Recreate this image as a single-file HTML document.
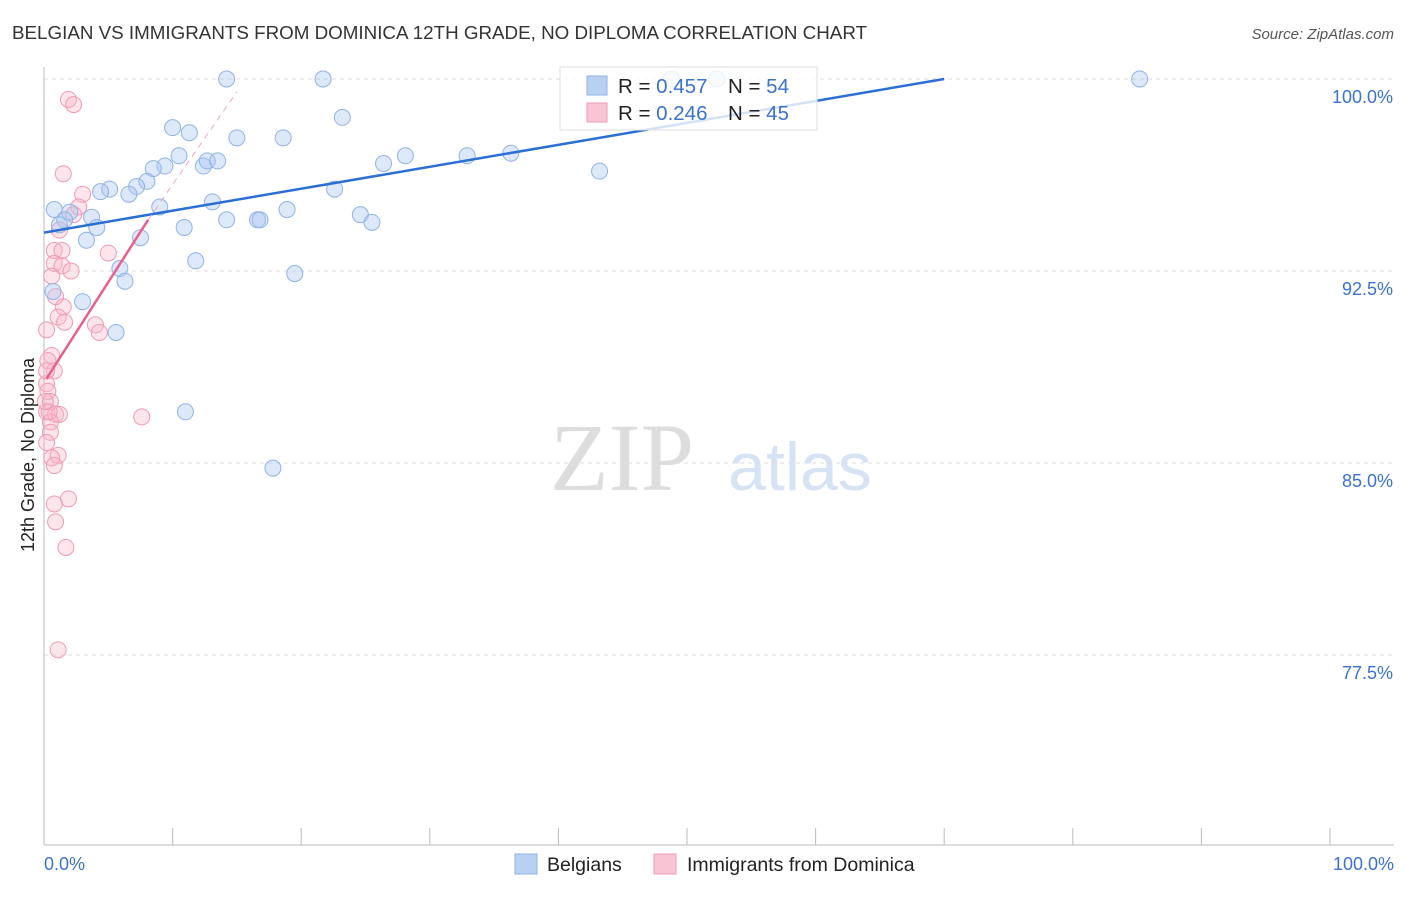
<!DOCTYPE html>
<html><head><meta charset="utf-8"><style>
body{margin:0;background:#fff;font-family:"Liberation Sans",sans-serif;}
</style></head><body>
<svg id="chart" width="1406" height="892" xmlns="http://www.w3.org/2000/svg">
<text x="12" y="39" font-size="18.8" fill="#333">BELGIAN VS IMMIGRANTS FROM DOMINICA 12TH GRADE, NO DIPLOMA CORRELATION CHART</text>
<text x="1394" y="39" font-size="15" fill="#555" text-anchor="end" font-style="italic">Source: ZipAtlas.com</text>
<text x="622" y="490" font-size="96" fill="#ddd" font-family="Liberation Serif,serif" text-anchor="middle">ZIP</text>
<text x="800" y="490" font-size="68" fill="#d6e3f5" text-anchor="middle">atlas</text>
<g id="grid"></g><g id="axes"></g><g id="marks"></g>
<text transform="translate(34,455) rotate(-90)" font-size="18" fill="#222" text-anchor="middle">12th Grade, No Diploma</text>
<g>
<rect x="560" y="67" width="257" height="63" fill="#fff" fill-opacity="0.8" stroke="#ddd"/>
<rect x="587" y="76" width="20" height="19" fill="#b8d0f2" stroke="#8fb3e6"/>
<rect x="587" y="103" width="20" height="19" fill="#f9c4d3" stroke="#f09ab3"/>
<text x="618" y="93" font-size="20.5" fill="#222">R = <tspan fill="#3b72d0">0.457</tspan></text>
<text x="728" y="93" font-size="20.5" fill="#222">N = <tspan fill="#3b72d0">54</tspan></text>
<text x="618" y="120" font-size="20.5" fill="#222">R = <tspan fill="#3b72d0">0.246</tspan></text>
<text x="728" y="120" font-size="20.5" fill="#222">N = <tspan fill="#3b72d0">45</tspan></text>
</g>
<g>
<rect x="515" y="854" width="22" height="20" fill="#b8d0f2" stroke="#8fb3e6"/>
<text x="547" y="871" font-size="19.5" fill="#222">Belgians</text>
<rect x="654" y="854" width="22" height="20" fill="#f9c4d3" stroke="#f09ab3"/>
<text x="687" y="871" font-size="19.5" fill="#222">Immigrants from Dominica</text>
</g>
</svg>
<script>
const yTicks=[100,92.5,85,77.5];
const yTickLabels=["100.0%","92.5%","85.0%","77.5%"];
const blueX=[14.2,21.7,48.8,52.3,85.2,10,11.3,15,18.6,23.2,10.5,12.4,12.7,13.5,9.4,8.5,8,7.2,5.1,4.4,6.6,9,13.1,18.9,22.6,26.4,28.1,32.9,36.3,43.2,24.6,25.5,16.6,16.8,14.2,10.9,0.8,2,1.6,3.7,4.1,1.2,3.3,7.5,11.8,5.9,6.3,19.5,3,0.7,5.6,11,17.8];
const blueY=[100,100,100,100,100,98.1,97.9,97.7,97.7,98.5,97,96.6,96.8,96.8,96.6,96.5,96,95.8,95.7,95.6,95.5,95,95.2,94.9,95.7,96.7,97,97,97.1,96.4,94.7,94.4,94.5,94.5,94.5,94.2,94.9,94.8,94.5,94.6,94.2,94.3,93.7,93.8,92.9,92.6,92.1,92.4,91.3,91.7,90.1,87,84.8];
const pinkX=[1.9,2.3,1.5,3,2.7,2.3,1.2,0.8,1.4,5,0.8,1.4,2.1,0.6,0.9,1.5,1.1,1.6,4,4.3,0.2,0.6,0.3,0.8,0.2,0.3,0.5,0.2,0.9,1.2,0.5,0.5,0.2,1.1,0.6,0.8,1.9,0.8,0.9,1.7,1.1,7.6,0.2,0.4,0.1];
const pinkY=[99.2,99,96.3,95.5,95,94.7,94.1,93.3,93.3,93.2,92.8,92.7,92.5,92.3,91.5,91.1,90.7,90.5,90.4,90.1,90.2,89.2,89,88.6,88.1,87.8,87.4,87,86.9,86.9,86.6,86.2,85.8,85.3,85.2,84.9,83.6,83.4,82.7,81.7,77.7,86.8,88.6,87,87.4];
const blueTrend=[0,94,70,100];
const pinkTrend=[0.2,88.3,8.1,94.5];
const pinkDash=[8.1,94.5,15,99.5];
const NS="http://www.w3.org/2000/svg";
const X0=44,X1=1330,YTOP=79,PX=25.6;
const sx=v=>X0+(X1-X0)*v/100, sy=v=>YTOP+(100-v)*PX;
function mk(tag,attrs,parent){const e=document.createElementNS(NS,tag);for(const k in attrs)e.setAttribute(k,attrs[k]);document.getElementById(parent).appendChild(e);return e;}
yTicks.forEach((t,i)=>{
 const l=mk('line',{x1:44,x2:1394,y1:sy(t),y2:sy(t),stroke:'#ddd','stroke-dasharray':'4,4'},'grid');
 
 
 const tx=mk('text',{x:1393,y:sy(t)+24,'font-size':18,fill:'#3b72d0','text-anchor':'end'},'axes');
 tx.textContent=yTickLabels[i];
 
 
});
const ax=mk('line',{x1:44,x2:44,y1:67,y2:845,stroke:'#bbb'},'axes');


const bx=mk('line',{x1:44,x2:1394,y1:845,y2:845,stroke:'#bbb'},'axes');


for(let i=0;i<=10;i++){const t=mk('line',{x1:sx(i*10),x2:sx(i*10),y1:828,y2:845,stroke:'#bbb'},'axes');
 
 }
const xl=mk('text',{x:44,y:870,'font-size':18,fill:'#3b72d0'},'axes');xl.textContent='0.0%';


const xr=mk('text',{x:1394,y:870,'font-size':18,fill:'#3b72d0','text-anchor':'end'},'axes');xr.textContent='100.0%';


pinkX.forEach((v,i)=>{const c=mk('circle',{cx:sx(v),cy:sy(pinkY[i]),r:8,fill:'rgba(248,180,200,0.35)',stroke:'#f09ab3','stroke-width':1},'marks');
 
 });
blueX.forEach((v,i)=>{const c=mk('circle',{cx:sx(v),cy:sy(blueY[i]),r:8,fill:'rgba(170,198,240,0.4)',stroke:'#8fb3e6','stroke-width':1},'marks');
 
 });
const bt=mk('line',{x1:sx(blueTrend[0]),y1:sy(blueTrend[1]),x2:sx(blueTrend[2]),y2:sy(blueTrend[3]),stroke:'#2b6fd6','stroke-width':2.5},'marks');


const pt=mk('line',{x1:sx(pinkTrend[0]),y1:sy(pinkTrend[1]),x2:sx(pinkTrend[2]),y2:sy(pinkTrend[3]),stroke:'#e8608a','stroke-width':2.5},'marks');


const pd=mk('line',{x1:sx(pinkDash[0]),y1:sy(pinkDash[1]),x2:sx(pinkDash[2]),y2:sy(pinkDash[3]),stroke:'#f0a8be','stroke-width':1,'stroke-dasharray':'6,5'},'marks');


</script>
</body></html>
